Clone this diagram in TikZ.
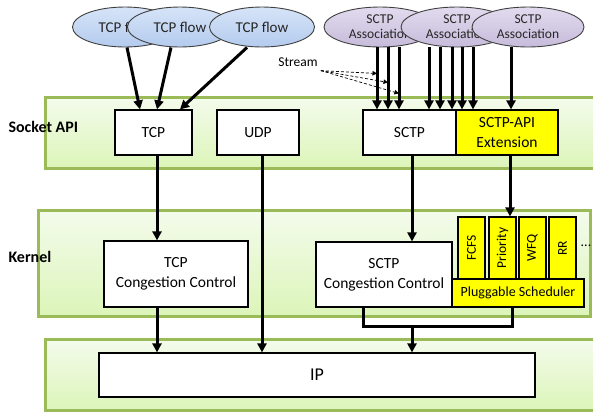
\documentclass[tikz,border=0pt]{standalone}
\usepackage{fontspec}
\setmainfont{Carlito}
\usetikzlibrary{arrows.meta,shapes.geometric,shadows}
\definecolor{bandline}{RGB}{155,187,89}
\definecolor{bandtop}{RGB}{244,251,236}
\definecolor{bandbot}{RGB}{220,245,185}
\definecolor{flowtop}{RGB}{214,228,248}
\definecolor{flowbot}{RGB}{180,203,238}
\definecolor{assoctop}{RGB}{226,219,238}
\definecolor{assocbot}{RGB}{198,187,219}
\definecolor{schedyellow}{RGB}{255,255,0}

\begin{document}
\begin{tikzpicture}[x=1pt,y=-1pt,
	layer/.style={draw=bandline, line width=3pt, top color=bandtop, bottom color=bandbot,
		drop shadow={opacity=0.25, shadow xshift=2pt, shadow yshift=-2pt}},
	box/.style={draw=black, line width=1.2pt, fill=white, align=center, inner sep=0pt,
		font=\fontsize{15.5}{20}\selectfont},
	ybox/.style={box, fill=schedyellow},
	flow/.style={ellipse, draw=black!75, line width=0.9pt, top color=flowtop, bottom color=flowbot,
		minimum width=105pt, minimum height=40pt, inner sep=0pt, text=black!85,
		font=\fontsize{15}{18}\selectfont},
	assoc/.style={flow, top color=assoctop, bottom color=assocbot, minimum width=112pt,
		align=center, font=\fontsize{13.5}{15}\selectfont},
	arr/.style={-{Triangle[length=9pt,width=9pt]}, line width=3pt},
	thickline/.style={line width=3pt},
	dasharr/.style={densely dashed, -{Triangle[length=4.5pt,width=4.5pt]}, line width=0.7pt},
	lbl/.style={anchor=west, font=\bfseries\fontsize{16}{18}\selectfont}]
	
	\useasboundingbox (0,0) rectangle (593,416);
	\clip (0,0) rectangle (593,416);
	
	% Layers
	\draw[layer] (45,97) rectangle (610,168);
	\draw[layer] (38,210) rectangle (590,316);
	\draw[layer] (45,339) rectangle (610,410);
	
	\node[lbl] (sockapi) at (5,127) {Socket API};
	\node[lbl] (kernel) at (5,257) {Kernel};
	
	% Socket API boxes
	\node[box, minimum width=77pt, minimum height=45pt] (tcp) at (153.5,132.5) {TCP};
	\node[box, minimum width=82pt, minimum height=45pt] (udp) at (258,132.5) {UDP};
	\node[box, minimum width=93pt, minimum height=45pt] (sctp) at (409.5,132.5) {SCTP};
	\node[ybox, minimum width=102pt, minimum height=45pt] (ext) at (507,132.5) {SCTP-API\\Extension};
	
	% Kernel boxes
	\node[box, minimum width=144pt, minimum height=66pt] (tcpcc) at (176,274) {TCP\\Congestion Control};
	\node[box, minimum width=136pt, minimum height=65pt] (sctpcc) at (384,274.5) {SCTP\\Congestion Control};
	\node[ybox, minimum width=132pt, minimum height=28pt, font=\fontsize{14}{16}\selectfont] (sched) at (518,293) {Pluggable Scheduler};
	\node[ybox, rotate=90, minimum width=62pt, minimum height=27pt, font=\fontsize{13.5}{15}\selectfont] (fcfs) at (471.5,248) {FCFS};
	\node[ybox, rotate=90, minimum width=62pt, minimum height=27pt, font=\fontsize{13.5}{15}\selectfont] (prio) at (502.5,248) {Priority};
	\node[ybox, rotate=90, minimum width=62pt, minimum height=27pt, font=\fontsize{13.5}{15}\selectfont] (wfq) at (532.5,248) {WFQ};
	\node[ybox, rotate=90, minimum width=62pt, minimum height=27pt, font=\fontsize{13.5}{15}\selectfont] (rr) at (562.5,248) {RR};
	\node[inner sep=0pt, font=\fontsize{14}{16}\selectfont] (more) at (586,246) {...};
	
	% IP
	\node[box, minimum width=436pt, minimum height=44pt, font=\fontsize{18}{20}\selectfont] (ip) at (317,375) {IP};
	
	% Flows and associations
	\node[flow] (f1) at (125,27) {TCP flow};
	\node[flow] (f2) at (180,27) {TCP flow};
	\node[flow] (f3) at (262,27) {TCP flow};
	\node[assoc] (a1) at (380,27) {SCTP\\Association};
	\node[assoc] (a2) at (457,27) {SCTP\\Association};
	\node[assoc] (a3) at (528,27) {SCTP\\Association};
	
	% TCP flow arrows
	\draw[arr] ([xshift=2pt]f1.south) -- ([xshift=-13.5pt]tcp.north);
	\draw[arr] ([xshift=-9pt]f2.south) -- ([xshift=3.5pt]tcp.north);
	\draw[arr] ([xshift=-15pt]f3.south) -- ([xshift=26.5pt]tcp.north);
	
	% SCTP streams
	\foreach \dx/\dy [count=\i] in {-3/26,8/35,19/46}{
		\path (a1.south) ++(\dx,0) coordinate (p\i) ++(0,\dy) coordinate (q\i);
		\draw[arr] (p\i) -- (p\i |- sctp.north);
	}
	\foreach \dx in {-28,-17,-5,5,16}{
		\path (a2.south) ++(\dx,0) coordinate (r);
		\draw[arr] (r) -- (r |- sctp.north);
	}
	\path (a3.south) ++(-17,0) coordinate (r3);
	\draw[arr] (r3) -- (r3 |- ext.north);
	
	\node[font=\fontsize{13.5}{15}\selectfont, inner sep=1pt] (st) at (298,62) {Stream};
	\foreach \i in {1,2,3}
		\draw[dasharr] ([shift={(2,3)}]st.south east) -- (q\i);
	
	% Socket API to kernel
	\path (tcp.south) ++(3.5,0) coordinate (tcpout);
	\draw[arr] (tcpout) -- (tcpout |- tcpcc.north);
	\path (udp.south) ++(4,0) coordinate (udpout);
	\draw[arr] (udpout) -- (udpout |- ip.north);
	\path (sctp.south) ++(2.5,0) coordinate (sctpout);
	\draw[arr] (sctpout) -- (sctpout |- sctpcc.north);
	\path (ext.south) ++(3,0) coordinate (extout);
	\draw[arr] (extout) -- (extout |- prio.east);
	
	% Kernel to IP
	\draw[arr] (tcpout |- tcpcc.south) -- (tcpout |- ip.north);
	\path (sctpcc.south) ++(-21,0) coordinate (ccout);
	\path (sched.south) ++(-6,0) coordinate (schedout);
	\path (sctpout |- ip.north) ++(0,-26) coordinate (join);
	\draw[thickline] (ccout) |- (join) -| (schedout);
	\draw[arr] (join) -- (join |- ip.north);
	
\end{tikzpicture}
\end{document}
